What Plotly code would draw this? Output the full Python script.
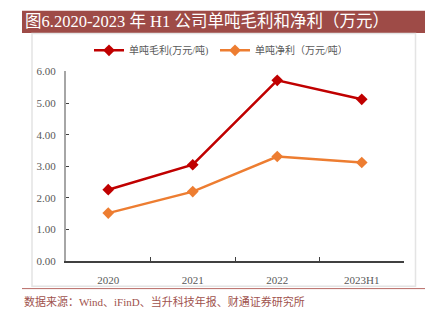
import plotly.graph_objects as go

categories = ["2020", "2021", "2022", "2023H1"]
gross_profit = [2.26, 3.05, 5.72, 5.12]
net_profit = [1.52, 2.20, 3.31, 3.12]
series_names = ["单吨毛利(万元/吨)", "单吨净利（万元/吨）"]
y_ticks = [0, 1, 2, 3, 4, 5, 6]
title_text = "图6.2020-2023 年 H1 公司单吨毛利和净利（万元）"
source_text = "数据来源：Wind、iFinD、当升科技年报、财通证券研究所"

W, H = 432, 323
def px(x):
    return x / W
def py(y):
    return 1 - y / H

CJK = "Liberation Serif, Noto Sans CJK SC"

fig = go.Figure()
fig.add_trace(go.Scatter(
    x=categories, y=gross_profit, name=series_names[0], mode="lines+markers",
    line=dict(color="#C00000", width=2.5),
    marker=dict(symbol="diamond", size=9, color="#C00000"),
))
fig.add_trace(go.Scatter(
    x=categories, y=net_profit, name=series_names[1], mode="lines+markers",
    line=dict(color="#ED7D31", width=2.5),
    marker=dict(symbol="diamond", size=9, color="#ED7D31"),
))

fig.update_layout(
    width=W, height=H,
    margin=dict(l=0, r=0, t=0, b=0),
    paper_bgcolor="white", plot_bgcolor="white",
    font=dict(family=CJK, color="#595959", size=11),
    showlegend=True,
    legend=dict(
        orientation="h", x=px(89), y=py(46), xanchor="left", yanchor="middle",
        font=dict(size=10, color="#595959", family=CJK),
        entrywidth=81, entrywidthmode="pixels",
        bgcolor="rgba(0,0,0,0)", itemwidth=30,
    ),
    xaxis=dict(
        domain=[px(66), px(404)],
        type="category", range=[-0.5, 3.5],
        showline=True, linecolor="#404040", linewidth=1.5,
        ticks="inside", ticklen=4, tickcolor="#404040",
        tickson="boundaries", showgrid=False, zeroline=False,
        ticklabelstandoff=8,
        tickfont=dict(family="Liberation Serif", size=11, color="#595959"),
    ),
    yaxis=dict(
        domain=[py(265), py(68)],
        range=[0, 6], tickvals=y_ticks, tickformat=".2f",
        showline=True, linecolor="#A6A6A6", linewidth=2,
        ticks="inside", ticklen=3, tickcolor="#404040",
        showgrid=False, zeroline=False,
        ticklabelstandoff=6,
        tickfont=dict(family="Liberation Serif", size=11, color="#595959"),
    ),
    shapes=[
        dict(type="rect", xref="paper", yref="paper",
             x0=px(22), x1=px(425), y0=py(28), y1=py(5),
             fillcolor="#9E4B47", line=dict(width=0), layer="below"),
        dict(type="rect", xref="paper", yref="paper",
             x0=px(32), x1=px(415.5), y0=py(291), y1=py(28.5),
             fillcolor="rgba(0,0,0,0)", line=dict(color="#E4E4E4", width=1.5), layer="below"),
        dict(type="line", xref="paper", yref="paper",
             x0=px(22), x1=px(425), y0=py(293.5), y1=py(293.5),
             line=dict(color="#B86A66", width=1)),
    ],
    annotations=[
        dict(text=title_text, xref="paper", yref="paper", x=px(23), y=py(16.5),
             xanchor="left", yanchor="middle", showarrow=False,
             font=dict(family=CJK, size=16.5, color="white")),
        dict(text=source_text, xref="paper", yref="paper", x=px(22), y=py(307),
             xanchor="left", yanchor="middle", showarrow=False,
             font=dict(family=CJK, size=11, color="#A0524D")),
    ],
)

fig.write_html("out.html")
